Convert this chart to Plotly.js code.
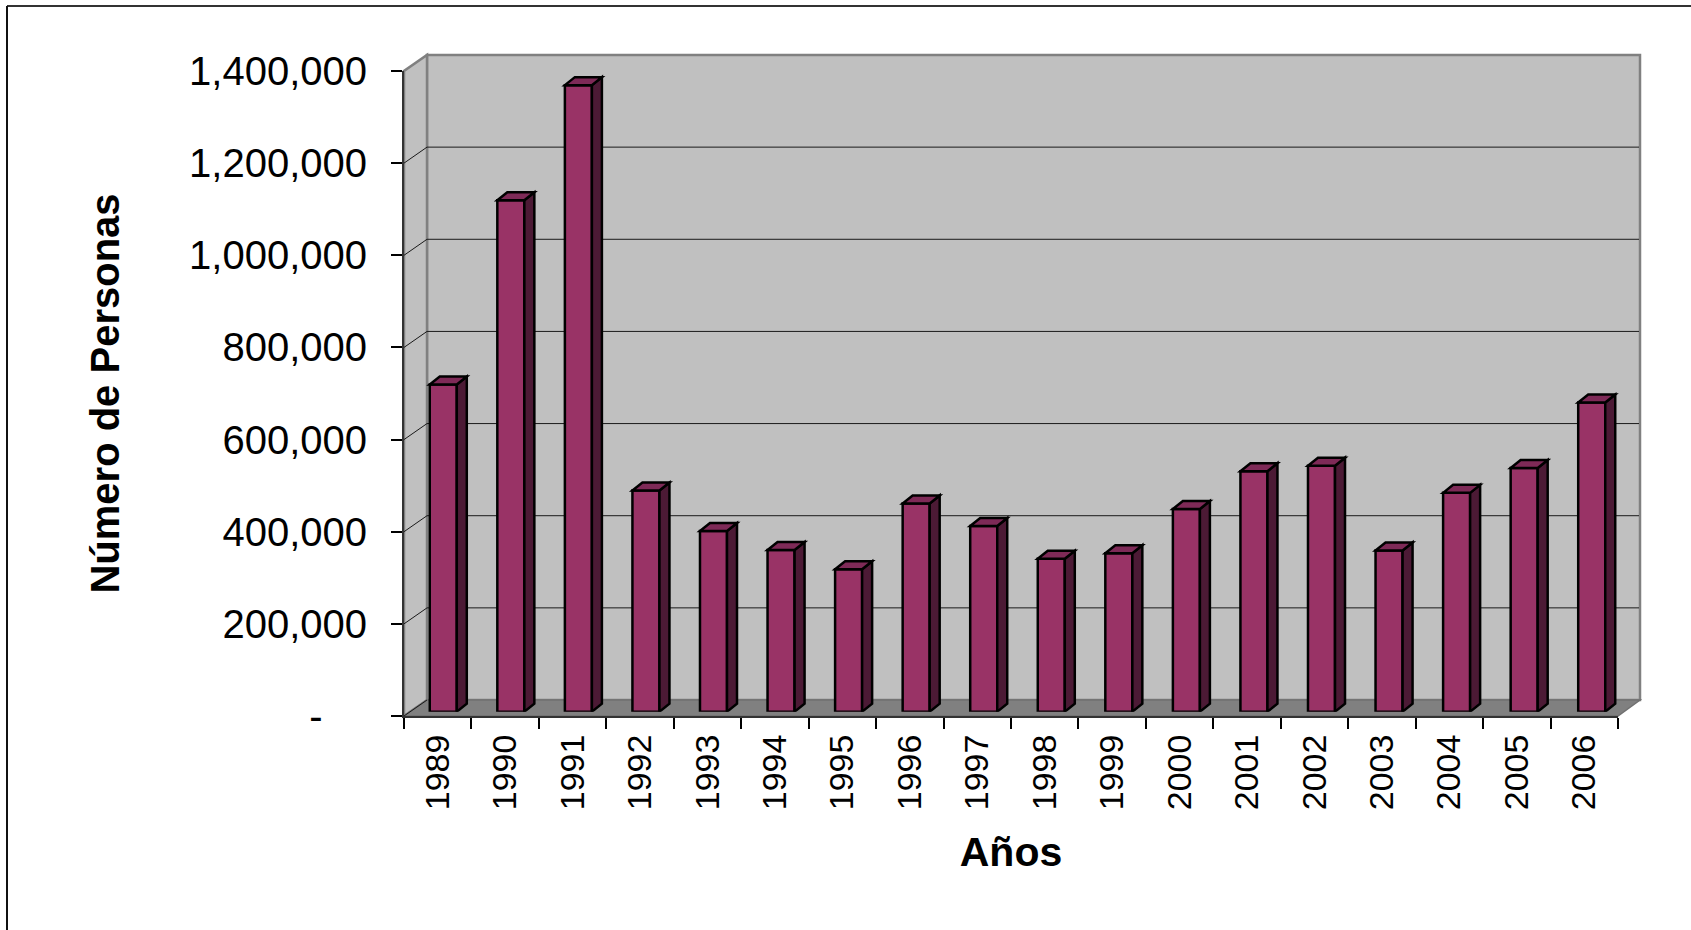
<!DOCTYPE html>
<html>
<head>
<meta charset="utf-8">
<script src="https://cdn.plot.ly/plotly-3.0.1.min.js"></script>
<style>
  html, body { margin: 0; padding: 0; background: #ffffff; }
  #chart { width: 1691px; height: 930px; }
</style>
</head>
<body>
<div id="chart"></div>
<script>
// ---------------- data ----------------
const years = ['1989','1990','1991','1992','1993','1994','1995','1996','1997',
               '1998','1999','2000','2001','2002','2003','2004','2005','2006'];
const personas = [710000, 1110000, 1360000, 480000, 392000, 351000, 309000, 452000, 403000,
                  332000, 344000, 440000, 522000, 534000, 350000, 475000, 529000, 671000];
const yTicks = [0, 200000, 400000, 600000, 800000, 1000000, 1200000, 1400000];
const yTickLabels = ['-\u00a0\u00a0\u00a0\u00a0', '200,000', '400,000', '600,000', '800,000',
                     '1,000,000', '1,200,000', '1,400,000'];
const xTitle = 'Años';
const yTitle = 'Número de Personas';

// ---------------- geometry (pixels) ----------------
const FIG_W = 1691, FIG_H = 930;
const L = 404, T = 54, R = 1640, B = 716;          // overall plot region
const W = R - L, H = B - T;
const px = v => (v - L) / W;                        // pixel -> paper x
const py = v => (B - v) / H;                        // pixel -> paper y
const FRONT_R = 1618, FRONT_T = 71;                 // front axes box
const DX = 23, DY = 16;                             // wall depth offset
const BAR_SHIFT_X = 5.5, BAR_SHIFT_Y = 4.3, BAR_SPAN = 1216;
const BAR_W = 0.4;                                  // category units
const SIDE_DX = 10, SIDE_DY = 8;                    // bar depth in px
const YMAX = 1400000;
const dataPerPx = YMAX / (B - FRONT_T);
const hw = BAR_W * (BAR_SPAN / years.length) / 2;   // half bar width, px

const FONT = 'Liberation Sans, Arial, Helvetica, sans-serif';
const idx = years.map((_, i) => i);

// ---------------- traces ----------------
const traces = [
  { // invisible helper so the front category axis knows the categories
    type: 'scatter', mode: 'markers', x: years, y: personas,
    xaxis: 'x', yaxis: 'y', marker: { opacity: 0 }, hoverinfo: 'skip', showlegend: false
  },
  {
    type: 'bar', x: idx, y: personas, xaxis: 'x3', yaxis: 'y3',
    width: BAR_W, marker: { color: '#993366', line: { color: '#000000', width: 2.5 } },
    hovertext: years, hoverinfo: 'text+y', showlegend: false
  }
];

// ---------------- decoration shapes ----------------
const shapes = [];
// back wall
shapes.push({ type: 'rect', xref: 'paper', yref: 'paper', layer: 'below',
  x0: px(L + DX), x1: px(R), y0: py(B - DY), y1: py(FRONT_T - DY),
  fillcolor: '#C0C0C0', line: { color: '#808080', width: 2.5 } });
// left wall
shapes.push({ type: 'path', xref: 'paper', yref: 'paper', layer: 'below',
  path: `M ${px(L)},${py(B)} L ${px(L)},${py(FRONT_T)} L ${px(L + DX)},${py(FRONT_T - DY)} L ${px(L + DX)},${py(B - DY)} Z`,
  fillcolor: '#C0C0C0', line: { color: '#808080', width: 2.5 } });
// floor
shapes.push({ type: 'path', xref: 'paper', yref: 'paper', layer: 'below',
  path: `M ${px(L)},${py(B)} L ${px(FRONT_R)},${py(B)} L ${px(R)},${py(B - DY)} L ${px(L + DX)},${py(B - DY)} Z`,
  fillcolor: '#808080', line: { color: '#707070', width: 1.5 } });
// back-wall grid lines (on the shifted back axis y2)
yTicks.slice(1, -1).forEach(v => {
  shapes.push({ type: 'line', xref: 'paper', yref: 'y2', layer: 'below',
    x0: px(L + DX), x1: px(R) - 1 / W, y0: v, y1: v,
    line: { color: '#1a1a1a', width: 1 } });
});
// slanted grid lines on the left wall
yTicks.slice(0, -1).forEach(v => {
  shapes.push({ type: 'line', xref: 'paper', yref: 'y', ysizemode: 'pixel', yanchor: v,
    layer: 'below', x0: 0, x1: px(L + DX), y0: 0, y1: DY,
    line: { color: '#1a1a1a', width: 1 } });
});
// outer chart border (left & top)
shapes.push({ type: 'line', xref: 'paper', yref: 'paper', x0: px(7), x1: px(FIG_W + 20),
  y0: py(6), y1: py(6), line: { color: '#333333', width: 2 } });
shapes.push({ type: 'line', xref: 'paper', yref: 'paper', x0: px(7), x1: px(7),
  y0: py(6), y1: py(FIG_H + 20), line: { color: '#111111', width: 2 } });

// 3D side & top faces of the bars
const dyData = SIDE_DY * dataPerPx;
personas.forEach((v, i) => {
  shapes.push({ type: 'path', xref: 'x3', yref: 'y3', xsizemode: 'pixel', xanchor: idx[i], layer: 'above',
    path: `M ${hw},0 L ${hw + SIDE_DX},${dyData} L ${hw + SIDE_DX},${v + dyData} L ${hw},${v} Z`,
    fillcolor: '#4C1A35', line: { color: '#000000', width: 2.5 } });
  shapes.push({ type: 'path', xref: 'x3', yref: 'y3', xsizemode: 'pixel', xanchor: idx[i], layer: 'above',
    path: `M ${-hw},${v} L ${-hw + SIDE_DX},${v + dyData} L ${hw + SIDE_DX},${v + dyData} L ${hw},${v} Z`,
    fillcolor: '#7E2A57', line: { color: '#000000', width: 2.5 } });
});

// ---------------- layout ----------------
const layout = {
  width: FIG_W, height: FIG_H, autosize: false,
  margin: { l: L, r: FIG_W - R, t: T, b: FIG_H - B, pad: 0 },
  paper_bgcolor: '#ffffff', plot_bgcolor: 'rgba(0,0,0,0)',
  showlegend: false,
  font: { family: FONT, color: '#000000' },
  xaxis: {
    type: 'category', anchor: 'y', domain: [0, px(FRONT_R)], range: [-0.5, years.length - 0.5],
    tickson: 'boundaries', ticks: 'outside', ticklen: 11, tickwidth: 1.5, tickcolor: '#000000',
    showline: true, linecolor: '#333333', linewidth: 2, showgrid: false, zeroline: false,
    tickangle: -90, tickfont: { family: FONT, size: 34, color: '#000000' },
    ticklabelstandoff: 3,
    title: { text: xTitle, font: { family: FONT, size: 41, weight: 'bold', color: '#000000' }, standoff: 28 },
    automargin: false, fixedrange: true
  },
  yaxis: {
    anchor: 'x', domain: [0, py(FRONT_T)], range: [0, YMAX],
    tickvals: yTicks, ticktext: yTickLabels,
    ticks: 'outside', ticklen: 11, tickwidth: 1.5, tickcolor: '#000000',
    showline: true, linecolor: '#333333', linewidth: 2, showgrid: false, zeroline: false,
    tickfont: { family: FONT, size: 40, color: '#000000' },
    ticklabelstandoff: 16,
    title: { text: yTitle, font: { family: FONT, size: 40, weight: 'bold', color: '#000000' }, standoff: 57 },
    automargin: false, fixedrange: true
  },
  xaxis2: { anchor: 'y2', domain: [px(L + DX), 1], range: [0, 1], visible: false, fixedrange: true },
  yaxis2: { anchor: 'x2', domain: [py(B - DY), py(FRONT_T - DY)], range: [0, YMAX],
    visible: false, fixedrange: true },
  xaxis3: { anchor: 'y3', domain: [px(L + BAR_SHIFT_X), px(L + BAR_SHIFT_X + BAR_SPAN)],
    range: [-0.5, years.length - 0.5], visible: false, fixedrange: true },
  yaxis3: { anchor: 'x3', domain: [py(B - BAR_SHIFT_Y), py(FRONT_T - BAR_SHIFT_Y)],
    range: [0, YMAX], visible: false, fixedrange: true },
  shapes: shapes
};

Plotly.newPlot('chart', traces, layout, { displayModeBar: false, responsive: false });
</script>
</body>
</html>
